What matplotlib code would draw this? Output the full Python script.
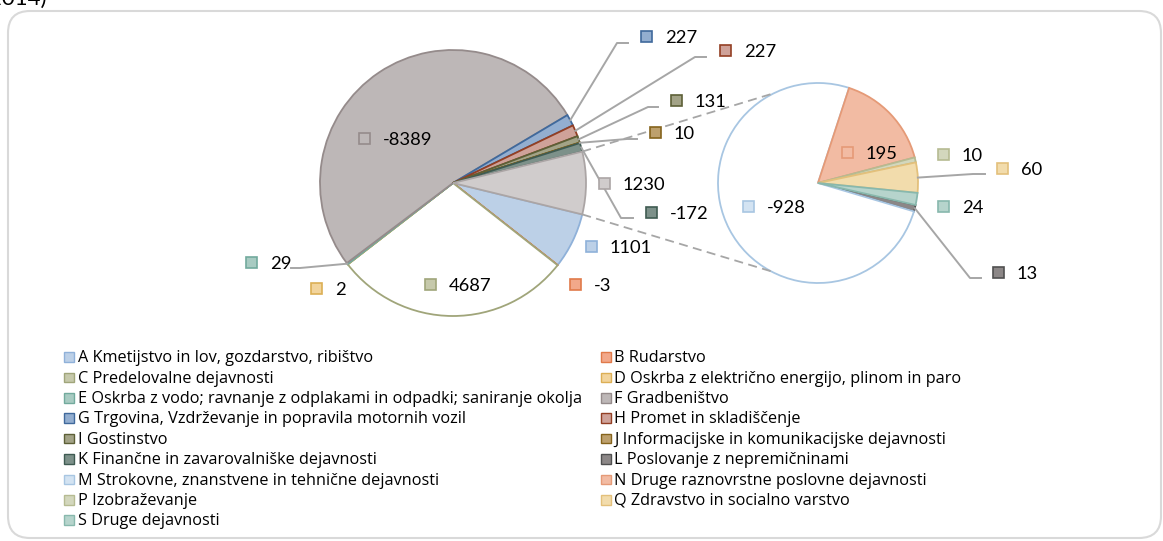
import matplotlib.pyplot as plt
from matplotlib.patches import Rectangle, FancyBboxPatch
import numpy as np

plt.rcParams['font.family'] = ['Lato', 'DejaVu Sans']

W, H = 1163, 541

# main pie: activities A..K plus the "other" slice split into the second pie
main_codes = ['A', 'B', 'C', 'D', 'E', 'F', 'G', 'H', 'I', 'J', 'K', 'O']
main_values = [1101, -3, 4687, 2, 29, -8389, 227, 227, 131, 10, -172, 1230]
second_codes = ['L', 'M', 'N', 'P', 'Q', 'S']
second_values = [13, -928, 195, 10, 60, 24]

legend_codes = ['A', 'B', 'C', 'D', 'E', 'F', 'G', 'H', 'I', 'J', 'K', 'L',
                'M', 'N', 'P', 'Q', 'S']
legend_names = [
    'A Kmetijstvo in lov, gozdarstvo, ribištvo',
    'B Rudarstvo',
    'C Predelovalne dejavnosti',
    'D Oskrba z električno energijo, plinom in paro',
    'E Oskrba z vodo; ravnanje z odplakami in odpadki; saniranje okolja',
    'F Gradbeništvo',
    'G Trgovina, Vzdrževanje in popravila motornih vozil',
    'H Promet in skladiščenje',
    'I Gostinstvo',
    'J Informacijske in komunikacijske dejavnosti',
    'K Finančne in zavarovalniške dejavnosti',
    'L Poslovanje z nepremičninami',
    'M Strokovne, znanstvene in tehnične dejavnosti',
    'N Druge raznovrstne poslovne dejavnosti',
    'P Izobraževanje',
    'Q Zdravstvo in socialno varstvo',
    'S Druge dejavnosti',
]

# fill / edge colours per code
fills = {'A': '#bcd0e7', 'B': '#f2a88a', 'C': '#c6c9ab', 'D': '#f2d49c',
         'E': '#a8cbc2', 'F': '#bdb7b7', 'G': '#93aed0', 'H': '#cfa299',
         'I': '#a3a387', 'J': '#bda06d', 'K': '#7d918a', 'O': '#d0cccc',
         'L': '#8c8787', 'M': '#d3e3f2', 'N': '#f2bba3', 'P': '#d3d7bd',
         'Q': '#f2dcac', 'S': '#b6d4cc'}
edges = {'A': '#8fb1d9', 'B': '#e07a4a', 'C': '#a0a57a', 'D': '#dcaf55',
         'E': '#72aa9d', 'F': '#958b8b', 'G': '#40699c', 'H': '#933f24',
         'I': '#5d6037', 'J': '#85631c', 'K': '#3f5b52', 'O': '#aba5a5',
         'L': '#505050', 'M': '#a8c6e2', 'N': '#e59a77', 'P': '#b6bb92',
         'Q': '#e3c07b', 'S': '#88b8ad'}
pie_fill = dict(fills, C='white', M='white')

# label layout: marker centre x, centre y (pixels from top), leader bend points
labels = {
    'A': (591, 246, None), 'B': (575, 284, None), 'C': (430, 284, None),
    'D': (316, 288, None), 'E': (251, 262, [(300, 268), (291, 268)]),
    'F': (364, 138, None), 'G': (646, 36, [(617, 43), (628, 43)]),
    'H': (725, 50, [(695, 57), (706, 57)]),
    'I': (676, 100, [(648, 107), (658, 107)]),
    'J': (655, 132, [(627, 139), (637, 139)]),
    'K': (651, 212, [(621, 218), (633, 218)]),
    'O': (604, 183, None),
    'L': (998, 272, [(970, 278), (981, 278)]),
    'M': (748, 206, None), 'N': (847, 152, None), 'P': (943, 154, None),
    'Q': (1002, 168, [(973, 174), (985, 174)]), 'S': (943, 206, None),
}

c1, r1 = (453, H - 183), 133
c2, r2 = (818, H - 183), 100
line_col = '#a6a6a6'

fig = plt.figure(figsize=(W / 100, H / 100), dpi=100)
ax = fig.add_axes([0, 0, 1, 1])

other_deg = abs(main_values[-1]) / sum(abs(v) for v in main_values) * 360
w1, _ = ax.pie(np.abs(main_values), center=c1, radius=r1, counterclock=False,
               startangle=-other_deg / 2,
               colors=[pie_fill[c] for c in main_codes],
               wedgeprops=dict(linewidth=1.3))
w2, _ = ax.pie(np.abs(second_values), center=c2, radius=r2, counterclock=False,
               startangle=-12.7,
               colors=[pie_fill[c] for c in second_codes],
               wedgeprops=dict(linewidth=1.3))
wedge_of = {}
for code, w in list(zip(main_codes, w1)) + list(zip(second_codes, w2)):
    w.set_edgecolor(edges[code])
    wedge_of[code] = w

# dashed connectors from the "other" slice to the second pie
wo = wedge_of['O']
for th1, th2 in [(wo.theta2, 116), (wo.theta1, -118)]:
    p = (c1[0] + r1 * np.cos(np.radians(th1)), c1[1] + r1 * np.sin(np.radians(th1)))
    q = (c2[0] + r2 * np.cos(np.radians(th2)), c2[1] + r2 * np.sin(np.radians(th2)))
    ax.plot([p[0], q[0]], [p[1], q[1]], color=line_col, lw=1.3,
            ls=(0, (5, 3)), zorder=3)

all_values = dict(zip(main_codes, main_values))
all_values.update(zip(second_codes, second_values))

for code, (mx, my, leader) in labels.items():
    if leader:
        w = wedge_of[code]
        mid = np.radians((w.theta1 + w.theta2) / 2)
        xs = [w.center[0] + w.r * np.cos(mid)] + [p[0] for p in leader]
        ys = [w.center[1] + w.r * np.sin(mid)] + [H - p[1] for p in leader]
        ax.plot(xs, ys, color=line_col, lw=1.4, zorder=3)
    ax.add_patch(Rectangle((mx - 5.5, H - my - 5.5), 11, 11, facecolor=fills[code],
                           edgecolor=edges[code], lw=1.2, zorder=4))
    ax.text(mx + 19, H - my - 6.6, str(all_values[code]), fontsize=13.2,
            va='baseline', ha='left', color='black', zorder=5)

# legend in two columns
for i, (code, name) in enumerate(zip(legend_codes, legend_names)):
    col, row = i % 2, i // 2
    lx = 69 if col == 0 else 605.5
    ly = 357 + row * 20.4
    ax.add_patch(Rectangle((lx - 5, H - ly - 4.8), 10, 9.6, facecolor=fills[code],
                           edgecolor=edges[code], lw=1.0))
    ax.text(lx + 9, H - ly - 5.2, name, fontsize=11.7, va='baseline', ha='left',
            color='black', family=['Open Sans', 'DejaVu Sans'])

# chart frame
ax.add_patch(FancyBboxPatch((8, H - 538), 1153, 527,
                            boxstyle='round,pad=0,rounding_size=22',
                            facecolor='none', edgecolor='#d9d9d9', lw=1.5))

# clipped title remnant at the top
fig.text(46 / W, 1 - 5 / H, '(2014)', fontsize=16, ha='right', va='baseline')

ax.set_xlim(0, W)
ax.set_ylim(0, H)
ax.set_aspect('equal')
ax.axis('off')

fig.savefig('out.png', dpi=100)
